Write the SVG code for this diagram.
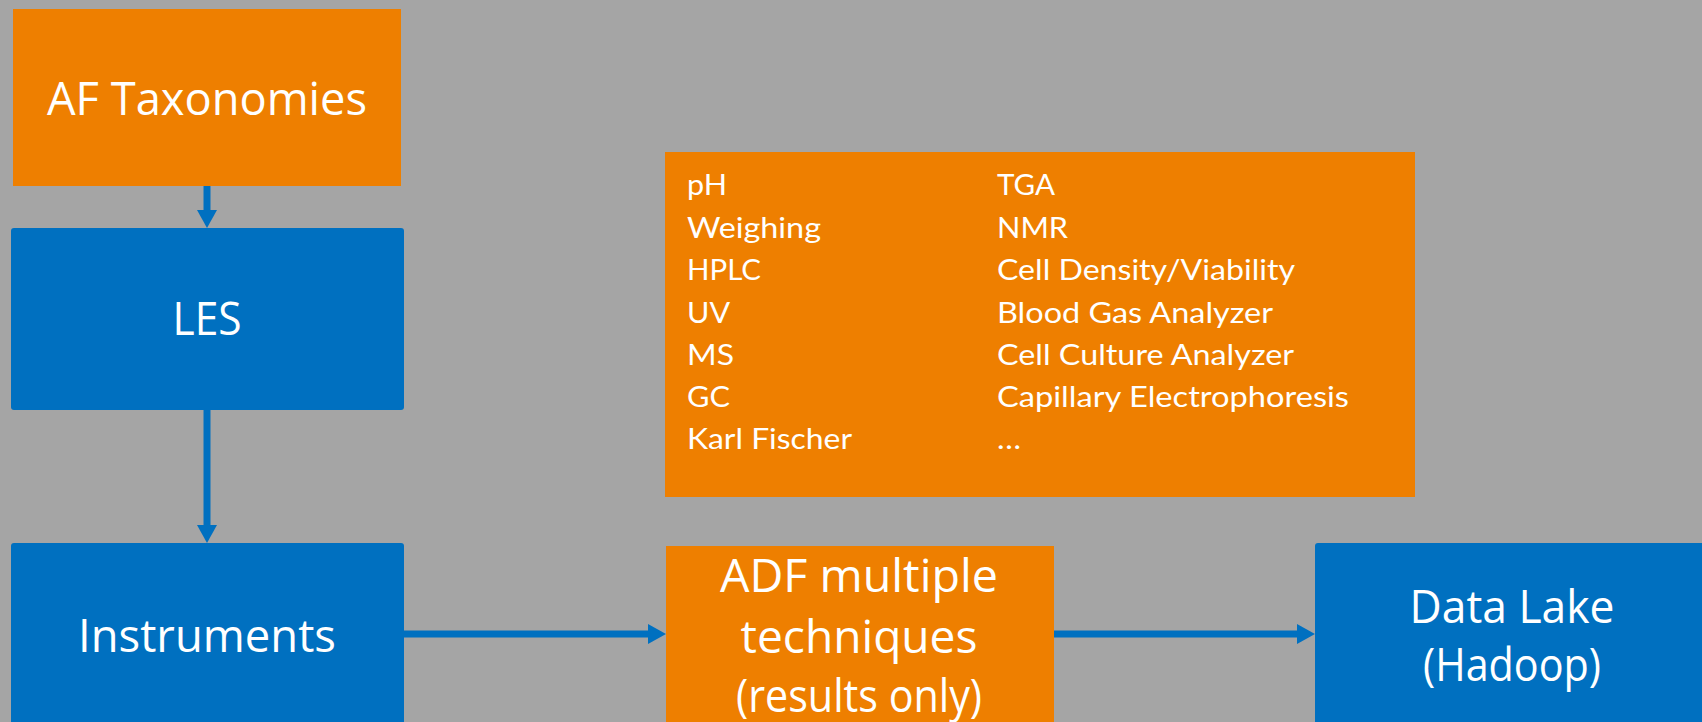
<svg xmlns="http://www.w3.org/2000/svg" width="1702" height="722" viewBox="0 0 1702 722">
<style>
.orange{fill:#EE7F00}
.blue{fill:#0070C0}
.big{font-family:"Open Sans","Noto Sans",sans-serif;font-size:45px;fill:#FFFFFF;text-anchor:middle}
.list{font-family:Lato,"Open Sans",sans-serif;font-size:28px;fill:#FFFFFF}
.conn{stroke:#0070C0;stroke-width:7;fill:none}
</style>
<defs>
<marker id="ah" markerUnits="userSpaceOnUse" markerWidth="18" markerHeight="20" refX="8" refY="10" orient="auto">
<path d="M0,0 L18,10 L0,20 z" fill="#0070C0"/>
</marker>
</defs>
<rect width="1702" height="722" fill="#A5A5A5"/>
<g id="connectors">
<path class="conn" d="M207,186 V218" marker-end="url(#ah)"/>
<path class="conn" d="M207,410 V533" marker-end="url(#ah)"/>
<path class="conn" d="M404,634 H656" marker-end="url(#ah)"/>
<path class="conn" d="M1054,634 H1305" marker-end="url(#ah)"/>
</g>
<g id="af-taxonomies">
<rect class="orange" x="13" y="9" width="388" height="177"/>
<text class="big" x="207" y="115" textLength="320" lengthAdjust="spacingAndGlyphs">AF Taxonomies</text>
</g>
<g id="les">
<rect class="blue" x="11" y="228" width="393" height="182" rx="3"/>
<text class="big" x="207" y="335" textLength="69" lengthAdjust="spacingAndGlyphs">LES</text>
</g>
<g id="instruments">
<rect class="blue" x="11" y="543" width="393" height="200" rx="3"/>
<text class="big" x="207" y="652" textLength="258" lengthAdjust="spacingAndGlyphs">Instruments</text>
</g>
<g id="techniques-list">
<rect class="orange" x="665" y="152" width="750" height="345"/>
<text class="list" x="687" y="195" textLength="40" lengthAdjust="spacingAndGlyphs">pH</text>
<text class="list" x="687" y="237.5" textLength="134" lengthAdjust="spacingAndGlyphs">Weighing</text>
<text class="list" x="687" y="280" textLength="74" lengthAdjust="spacingAndGlyphs">HPLC</text>
<text class="list" x="687" y="322.5" textLength="43" lengthAdjust="spacingAndGlyphs">UV</text>
<text class="list" x="687" y="365" textLength="47" lengthAdjust="spacingAndGlyphs">MS</text>
<text class="list" x="687" y="407" textLength="43" lengthAdjust="spacingAndGlyphs">GC</text>
<text class="list" x="687" y="449" textLength="165" lengthAdjust="spacingAndGlyphs">Karl Fischer</text>
<text class="list" x="997" y="195" textLength="58" lengthAdjust="spacingAndGlyphs">TGA</text>
<text class="list" x="997" y="237.5" textLength="71" lengthAdjust="spacingAndGlyphs">NMR</text>
<text class="list" x="997" y="280" textLength="298" lengthAdjust="spacingAndGlyphs">Cell Density/Viability</text>
<text class="list" x="997" y="322.5" textLength="276" lengthAdjust="spacingAndGlyphs">Blood Gas Analyzer</text>
<text class="list" x="997" y="365" textLength="297" lengthAdjust="spacingAndGlyphs">Cell Culture Analyzer</text>
<text class="list" x="997" y="407" textLength="352" lengthAdjust="spacingAndGlyphs">Capillary Electrophoresis</text>
<text class="list" x="997" y="449" textLength="24" lengthAdjust="spacingAndGlyphs">…</text>
</g>
<g id="adf">
<rect class="orange" x="666" y="546" width="388" height="200"/>
<text class="big" x="859" y="592" textLength="278" lengthAdjust="spacingAndGlyphs">ADF multiple</text>
<text class="big" x="859" y="653" textLength="237" lengthAdjust="spacingAndGlyphs">techniques</text>
<text class="big" x="859" y="712" textLength="246" lengthAdjust="spacingAndGlyphs">(results only)</text>
</g>
<g id="data-lake">
<rect class="blue" x="1315" y="543" width="400" height="200" rx="3"/>
<text class="big" x="1512" y="623" textLength="205" lengthAdjust="spacingAndGlyphs">Data Lake</text>
<text class="big" x="1512" y="681" textLength="178" lengthAdjust="spacingAndGlyphs">(Hadoop)</text>
</g>
</svg>
